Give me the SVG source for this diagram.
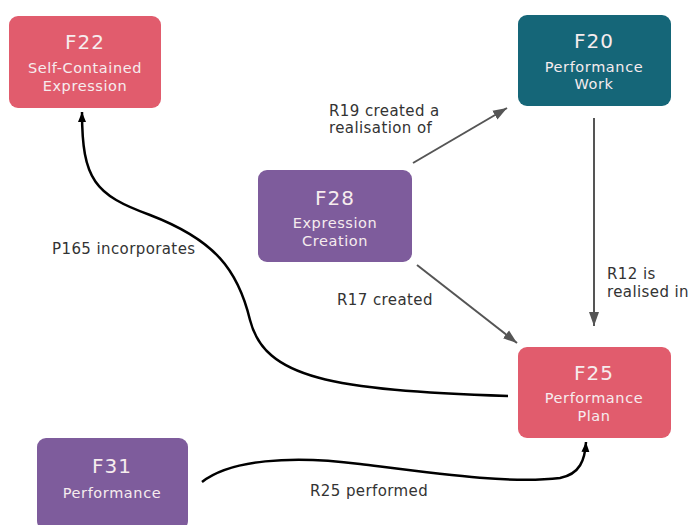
<svg xmlns="http://www.w3.org/2000/svg" width="688" height="525" viewBox="0 0 688 525">
<defs>
<style>
.box{stroke:none}
.pink{fill:#e15c6d}
.teal{fill:#156678}
.purple{fill:#7e5c9c}
.title{font-family:"DejaVu Sans","Liberation Sans",sans-serif;font-size:20px;letter-spacing:1px;fill:#f6ecee;text-anchor:middle}
.sub{font-family:"DejaVu Sans","Liberation Sans",sans-serif;font-size:14.5px;letter-spacing:0.6px;fill:#f6ecee;text-anchor:middle}
.lbl{font-family:"DejaVu Sans","Liberation Sans",sans-serif;font-size:15px;letter-spacing:0.4px;fill:#333}
.gray{fill:none;stroke:#555;stroke-width:2}
.blk{fill:none;stroke:#000;stroke-width:2.5}
</style>
<marker id="ag" markerUnits="userSpaceOnUse" markerWidth="16" markerHeight="12" refX="14" refY="6" orient="auto">
<path d="M0,1 L14,6 L0,11 Z" fill="#555"/>
</marker>
<marker id="ab" markerUnits="userSpaceOnUse" markerWidth="12" markerHeight="10" refX="10" refY="5" orient="auto">
<path d="M0,1 L10,5 L0,9 Z" fill="#000"/>
</marker>
</defs>
<rect width="688" height="525" fill="#fff"/>
<g id="connectors">
<path class="gray" d="M413,163 L507,108" marker-end="url(#ag)"/>
<path class="gray" d="M417,265 L517,343" marker-end="url(#ag)"/>
<path class="gray" d="M594,118 L594,326" marker-end="url(#ag)"/>
<path class="blk" d="M508,396 C330,390 265,378 250,320 C238,270 215,240 150,215 C95,195 82,180 82,112" marker-end="url(#ab)"/>
<path class="blk" d="M202,482 C230,460 290,455 360,464 C440,474 510,484 560,478 C580,474 585,460 586,442" marker-end="url(#ab)"/>
<text class="lbl" x="329" y="116">R19 created a</text>
<text class="lbl" x="329" y="133">realisation of</text>
<text class="lbl" x="52" y="254">P165 incorporates</text>
<text class="lbl" x="337" y="305">R17 created</text>
<text class="lbl" x="607" y="279">R12 is</text>
<text class="lbl" x="607" y="297">realised in</text>
<text class="lbl" x="310" y="496">R25 performed</text>
</g>
<g id="F22">
<rect class="box pink" x="9" y="16" width="152" height="92" rx="9"/>
<text class="title" x="85" y="49">F22</text>
<text class="sub" x="85" y="73">Self-Contained</text>
<text class="sub" x="85" y="91">Expression</text>
</g>
<g id="F20">
<rect class="box teal" x="518" y="15" width="153" height="91" rx="9"/>
<text class="title" x="594" y="48">F20</text>
<text class="sub" x="594" y="72">Performance</text>
<text class="sub" x="594" y="89">Work</text>
</g>
<g id="F28">
<rect class="box purple" x="258" y="170" width="154" height="92" rx="9"/>
<text class="title" x="335" y="205">F28</text>
<text class="sub" x="335" y="228">Expression</text>
<text class="sub" x="335" y="246">Creation</text>
</g>
<g id="F25">
<rect class="box pink" x="518" y="347" width="153" height="91" rx="9"/>
<text class="title" x="594" y="380">F25</text>
<text class="sub" x="594" y="403">Performance</text>
<text class="sub" x="594" y="421">Plan</text>
</g>
<g id="F31">
<rect class="box purple" x="37" y="438" width="151" height="92" rx="9"/>
<text class="title" x="112" y="473">F31</text>
<text class="sub" x="112" y="498">Performance</text>
</g>
</svg>
